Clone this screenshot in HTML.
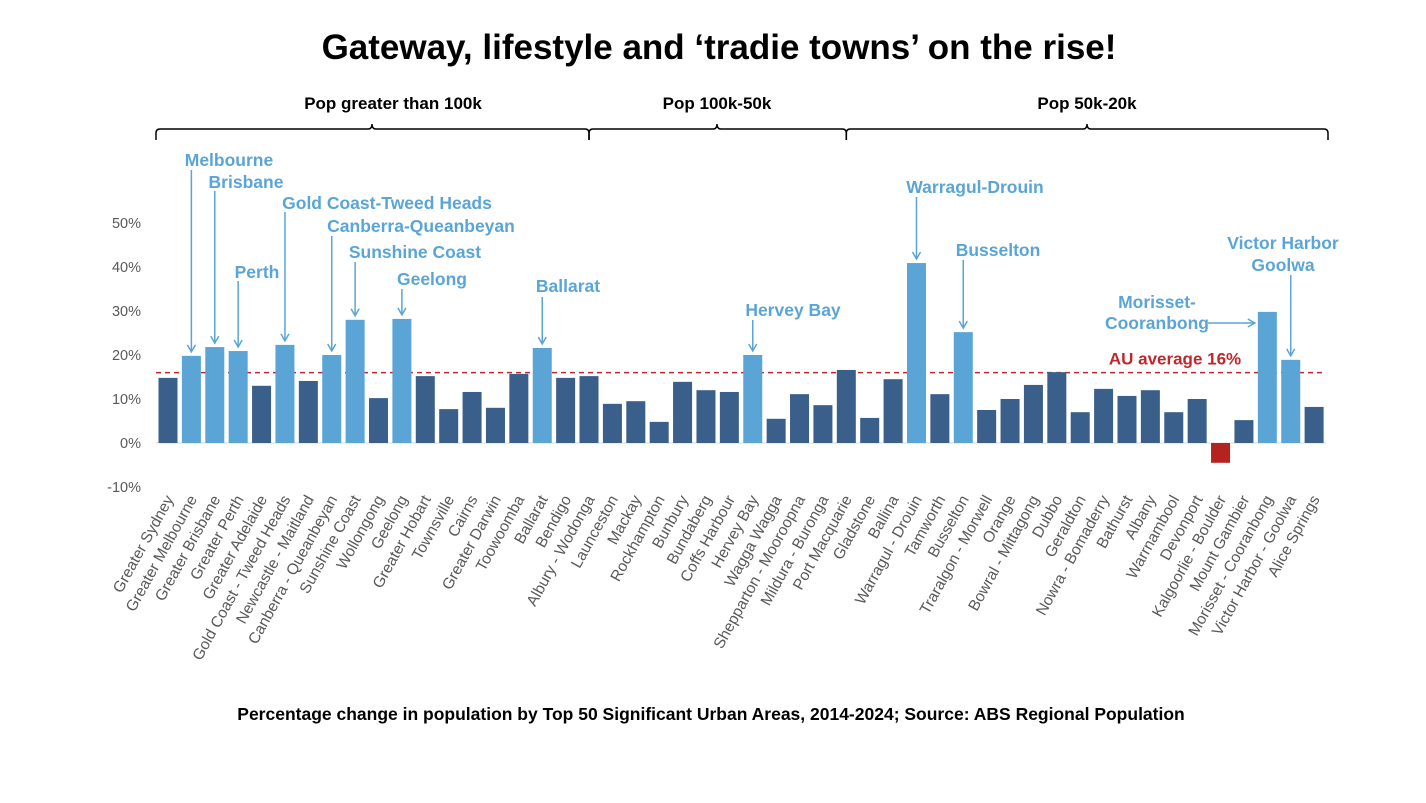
<!DOCTYPE html>
<html><head><meta charset="utf-8"><style>
body{margin:0;background:#fff;width:1426px;height:798px;overflow:hidden;font-family:"Liberation Sans",Arial,sans-serif}
</style></head><body>
<svg id="chart" width="1426" height="798" xmlns="http://www.w3.org/2000/svg" font-family="Liberation Sans, Arial, sans-serif">
<text x="719" y="59" text-anchor="middle" font-size="35" font-weight="bold" fill="#000">Gateway, lifestyle and ‘tradie towns’ on the rise!</text>
<text x="711" y="720" text-anchor="middle" font-size="17.5" font-weight="bold" fill="#000">Percentage change in population by Top 50 Significant Urban Areas, 2014-2024; Source:  ABS Regional Population</text>
<g id="brackets"></g><g id="grid"></g><g id="bars"></g><g id="labels"></g><g id="annots"></g>
</svg>
<script>
const categories=["Greater Sydney","Greater Melbourne","Greater Brisbane","Greater Perth","Greater Adelaide","Gold Coast - Tweed Heads","Newcastle - Maitland","Canberra - Queanbeyan","Sunshine Coast","Wollongong","Geelong","Greater Hobart","Townsville","Cairns","Greater Darwin","Toowoomba","Ballarat","Bendigo","Albury - Wodonga","Launceston","Mackay","Rockhampton","Bunbury","Bundaberg","Coffs Harbour","Hervey Bay","Wagga Wagga","Shepparton - Mooroopna","Mildura - Buronga","Port Macquarie","Gladstone","Ballina","Warragul - Drouin","Tamworth","Busselton","Traralgon - Morwell","Orange","Bowral - Mittagong","Dubbo","Geraldton","Nowra - Bomaderry","Bathurst","Albany","Warrnambool","Devonport","Kalgoorlie - Boulder","Mount Gambier","Morisset - Cooranbong","Victor Harbor - Goolwa","Alice Springs"];
const values=[14.8,19.8,21.8,20.9,13,22.3,14.1,20,28,10.2,28.2,15.2,7.7,11.6,8,15.7,21.6,14.8,15.2,8.9,9.5,4.8,13.9,12,11.6,20,5.5,11.1,8.6,16.6,5.7,14.5,40.9,11.1,25.2,7.5,10,13.2,16.1,7,12.3,10.7,12,7,10,-4.5,5.2,29.8,18.9,8.2];
const highlighted=["Greater Melbourne","Greater Brisbane","Greater Perth","Gold Coast - Tweed Heads","Canberra - Queanbeyan","Sunshine Coast","Geelong","Ballarat","Hervey Bay","Warragul - Drouin","Busselton","Morisset - Cooranbong","Victor Harbor - Goolwa"];
const yTicks=[-10,0,10,20,30,40,50];
const average=16;
const groups=[{label:"Pop greater than 100k",from:0,to:18,tip:372,lx:393},{label:"Pop 100k-50k",from:18,to:29,tip:717,lx:717},{label:"Pop 50k-20k",from:29,to:49,tip:1087,lx:1087}];

const NS="http://www.w3.org/2000/svg";
const x0=168,step=23.39,bw=19,left=156,right=1326;
const xs=i=>x0+i*step;
const ys=v=>443-v*4.4;
function mk(tag,attrs,parent,text){const e=document.createElementNS(NS,tag);for(const k in attrs)e.setAttribute(k,attrs[k]);if(text!==undefined)e.textContent=text;parent.appendChild(e);return e;}
const G=id=>document.getElementById(id);

yTicks.forEach(t=>{
  const el=mk("text",{x:141,y:ys(t)+5,"text-anchor":"end","font-size":14.5,fill:"#595959"},G("grid"),t+"%");
  
  
});
const ax=mk("line",{x1:left,x2:right,y1:ys(0),y2:ys(0),stroke:"#d9d9d9","stroke-width":1},G("grid"));



categories.forEach((c,i)=>{
  const v=values[i];
  const col=v<0?"#b5231f":(highlighted.includes(c)?"#5aa5d6":"#3a5f8a");
  const r=mk("rect",{x:xs(i)-bw/2,y:Math.min(ys(v),ys(0)),width:bw,height:Math.abs(ys(v)-ys(0)),fill:col},G("bars"));
  
  
  const tx=xs(i)+6,ty=499;
  const t=mk("text",{x:tx,y:ty,"text-anchor":"end","font-size":15.5,fill:"#595959",transform:`rotate(-61 ${tx} ${ty})`},G("labels"),c);
  
  
});

const avg=mk("line",{x1:left,x2:right,y1:ys(average),y2:ys(average),stroke:"#c0272d","stroke-width":1.5,"stroke-dasharray":"5,4"},G("grid"));


const avgT=mk("text",{x:1175,y:ys(average)-8,"text-anchor":"middle","font-size":17,"font-weight":"bold",fill:"#c0272d"},G("annots"),"AU average "+average+"%");



groups.forEach(g=>{
  const a=g.from===0?left:xs(g.from), b=g.to===49?right+2:xs(g.to), m=g.tip;
  const p=mk("path",{d:`M${a},140 L${a},133 Q${a},129 ${a+4},129 L${m-4},129 Q${m},129 ${m},124 Q${m},129 ${m+4},129 L${b-4},129 Q${b},129 ${b},133 L${b},140`,fill:"none",stroke:"#000","stroke-width":1.5},G("brackets"));
  
  
  const t=mk("text",{x:g.lx,y:109,"text-anchor":"middle","font-size":17,"font-weight":"bold",fill:"#000"},G("brackets"),g.label);
  
  
});

const ann=[
 {i:1,lines:["Melbourne"],tx:229,ty:166,top:170},
 {i:2,lines:["Brisbane"],tx:246,ty:188,top:191},
 {i:3,lines:["Perth"],tx:257,ty:278,top:281},
 {i:5,lines:["Gold Coast-Tweed Heads"],tx:387,ty:209,top:212},
 {i:7,lines:["Canberra-Queanbeyan"],tx:421,ty:232,top:236},
 {i:8,lines:["Sunshine Coast"],tx:415,ty:258,top:262},
 {i:10,lines:["Geelong"],tx:432,ty:285,top:289},
 {i:16,lines:["Ballarat"],tx:568,ty:292,top:297},
 {i:25,lines:["Hervey Bay"],tx:793,ty:316,top:320},
 {i:32,lines:["Warragul-Drouin"],tx:975,ty:193,top:197},
 {i:34,lines:["Busselton"],tx:998,ty:256,top:260},
 {i:48,lines:["Victor Harbor","Goolwa"],tx:1283,ty:249,top:275}
];
function arrowHead(x,y,dir){
  const d=dir==="down"?`M${x-4},${y-7} L${x},${y} L${x+4},${y-7}`:`M${x-7},${y-4} L${x},${y} L${x-7},${y+4}`;
  const h=mk("path",{d,fill:"none",stroke:"#5aa5d6","stroke-width":1.5},G("annots"));
  
  
}
ann.forEach(a=>{
  a.lines.forEach((l,k)=>{
    const t=mk("text",{x:a.tx,y:a.ty+k*22,"text-anchor":"middle","font-size":17.5,"font-weight":"bold",fill:"#5aa5d6"},G("annots"),l);
    
    
  });
  const x=xs(a.i),yb=ys(values[a.i])-4;
  const ln=mk("line",{x1:x,x2:x,y1:a.top,y2:yb,stroke:"#5aa5d6","stroke-width":1.5},G("annots"));
  
  
  arrowHead(x,yb,"down");
});
["Morisset-","Cooranbong"].forEach((l,k)=>{
  const t=mk("text",{x:1157,y:308+k*21,"text-anchor":"middle","font-size":17.5,"font-weight":"bold",fill:"#5aa5d6"},G("annots"),l);
  
  
});
const mx=xs(47)-bw/2-3;
const ml=mk("line",{x1:1208,x2:mx,y1:323,y2:323,stroke:"#5aa5d6","stroke-width":1.5},G("annots"));


arrowHead(mx,323,"right");
</script>
</body></html>
